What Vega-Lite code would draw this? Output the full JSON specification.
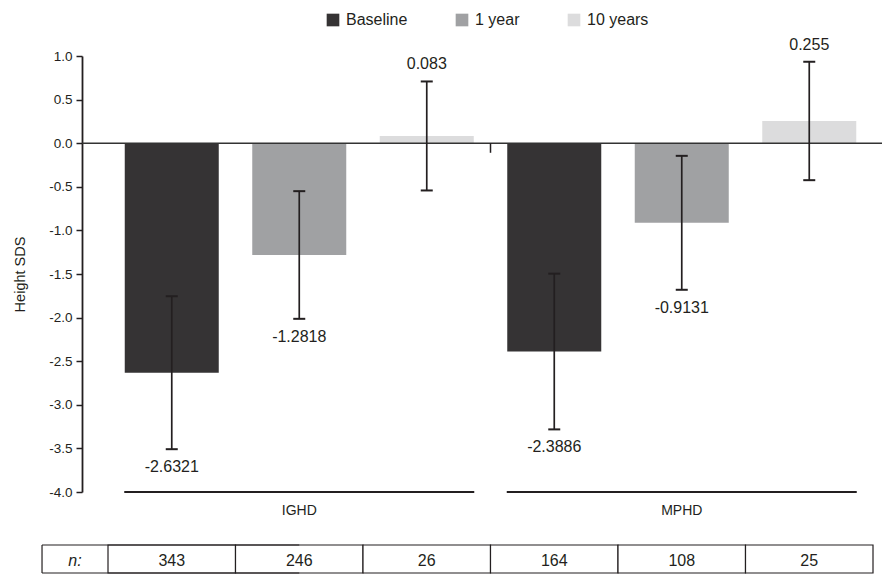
{
  "$schema": "https://vega.github.io/schema/vega-lite/v6.json",
  "width": 800,
  "height": 436,
  "autosize": {"type": "none"},
  "padding": {"left": 82, "top": 56, "right": 0, "bottom": 82},
  "config": {
    "font": "Liberation Sans",
    "view": {"stroke": null},
    "axis": {"labelColor": "#231f20", "titleColor": "#231f20"},
    "axisY": {"labelFontSize": 13.5, "titleFontSize": 14.5, "titleFontWeight": "normal"},
    "axisX": {"labelFontSize": 14},
    "legend": {
      "orient": "none",
      "legendX": 243,
      "legendY": -44,
      "direction": "horizontal",
      "symbolType": "square",
      "symbolSize": 160,
      "symbolStrokeWidth": 0,
      "labelFontSize": 16,
      "labelColor": "#231f20",
      "labelOffset": 5,
      "columnPadding": 46,
      "title": null
    }
  },
  "datasets": {
    "bars": [
      {"group": "IGHD", "time": "Baseline", "mean": -2.6321, "low": -3.509, "high": -1.755, "label": "-2.6321", "n": 343},
      {"group": "IGHD", "time": "1 year", "mean": -1.2818, "low": -2.014, "high": -0.55, "label": "-1.2818", "n": 246},
      {"group": "IGHD", "time": "10 years", "mean": 0.083, "low": -0.542, "high": 0.708, "label": "0.083", "n": 26},
      {"group": "MPHD", "time": "Baseline", "mean": -2.3886, "low": -3.282, "high": -1.496, "label": "-2.3886", "n": 164},
      {"group": "MPHD", "time": "1 year", "mean": -0.9131, "low": -1.681, "high": -0.145, "label": "-0.9131", "n": 108},
      {"group": "MPHD", "time": "10 years", "mean": 0.255, "low": -0.424, "high": 0.934, "label": "0.255", "n": 25}
    ],
    "groups": [{"group": "IGHD"}, {"group": "MPHD"}],
    "header": [{"label": "n:"}]
  },
  "layer": [
    {
      "layer": [
        {
          "data": {"name": "bars"},
          "mark": {"type": "bar"},
          "encoding": {
            "x": {
              "field": "group", "type": "nominal",
              "scale": {"domain": ["IGHD", "MPHD"], "paddingInner": 0, "paddingOuter": 0.04575, "align": 0.743},
              "axis": {"title": null, "domain": false, "ticks": false, "labelPadding": 11, "labelFontSize": 14, "labelAngle": 0}
            },
            "xOffset": {
              "field": "time", "type": "nominal",
              "scale": {"domain": ["Baseline", "1 year", "10 years"], "paddingInner": 0.2627, "paddingOuter": 0.13135}
            },
            "y": {
              "field": "mean", "type": "quantitative",
              "scale": {"domain": [-4, 1], "nice": false, "zero": false},
              "axis": {
                "values": [-4, -3.5, -3, -2.5, -2, -1.5, -1, -0.5, 0, 0.5, 1],
                "labelExpr": "replace(format(datum.value, '.1f'), '−', '-')",
                "tickSize": 6, "labelPadding": 4, "labelFontSize": 13.5,
                "domainColor": "#231f20", "domainWidth": 1.8,
                "tickColor": "#231f20", "tickWidth": 1.5, "grid": false,
                "title": "Height SDS", "titleFontSize": 14.5, "titleFontWeight": "normal", "titlePadding": 21
              }
            },
            "y2": {"datum": 0},
            "color": {
              "field": "time", "type": "nominal",
              "scale": {"domain": ["Baseline", "1 year", "10 years"], "range": ["#353334", "#a0a1a3", "#dcdcdd"]}
            }
          }
        },
        {
          "data": {"name": "header"},
          "mark": {"type": "rule", "color": "#333333", "strokeWidth": 1.6},
          "encoding": {"y": {"datum": 0}}
        },
        {
          "data": {"name": "header"},
          "mark": {"type": "rule", "color": "#231f20", "strokeWidth": 1.5},
          "encoding": {
            "x": {"datum": "MPHD", "bandPosition": 0},
            "y": {"datum": 0},
            "y2": {"datum": -0.11}
          }
        },
        {
          "data": {"name": "bars"},
          "mark": {"type": "rule", "color": "#231f20", "strokeWidth": 1.7},
          "encoding": {
            "x": {"field": "group", "type": "nominal"},
            "xOffset": {"field": "time", "type": "nominal"},
            "y": {"field": "low", "type": "quantitative"},
            "y2": {"field": "high"}
          }
        },
        {
          "data": {"name": "bars"},
          "mark": {"type": "tick", "orient": "horizontal", "size": 12, "thickness": 2, "color": "#231f20", "opacity": 1},
          "encoding": {
            "x": {"field": "group", "type": "nominal"},
            "xOffset": {"field": "time", "type": "nominal"},
            "y": {"field": "low", "type": "quantitative"}
          }
        },
        {
          "data": {"name": "bars"},
          "mark": {"type": "tick", "orient": "horizontal", "size": 12, "thickness": 2, "color": "#231f20", "opacity": 1},
          "encoding": {
            "x": {"field": "group", "type": "nominal"},
            "xOffset": {"field": "time", "type": "nominal"},
            "y": {"field": "high", "type": "quantitative"}
          }
        },
        {
          "data": {"name": "bars"},
          "transform": [{"filter": "datum.mean < 0"}],
          "mark": {"type": "text", "fontSize": 16, "color": "#231f20", "baseline": "middle", "align": "center", "dy": 18},
          "encoding": {
            "x": {"field": "group", "type": "nominal"},
            "xOffset": {"field": "time", "type": "nominal"},
            "y": {"field": "low", "type": "quantitative"},
            "text": {"field": "label"}
          }
        },
        {
          "data": {"name": "bars"},
          "transform": [{"filter": "datum.mean > 0"}],
          "mark": {"type": "text", "fontSize": 16, "color": "#231f20", "baseline": "middle", "align": "center", "dy": -17},
          "encoding": {
            "x": {"field": "group", "type": "nominal"},
            "xOffset": {"field": "time", "type": "nominal"},
            "y": {"field": "high", "type": "quantitative"},
            "text": {"field": "label"}
          }
        },
        {
          "data": {"name": "groups"},
          "mark": {"type": "tick", "orient": "horizontal", "size": 350, "thickness": 1.8, "color": "#231f20", "opacity": 1},
          "encoding": {
            "x": {"field": "group", "type": "nominal"},
            "y": {"datum": -4}
          }
        }
      ]
    },
    {
      "layer": [
        {
          "data": {"name": "bars"},
          "mark": {"type": "rect", "fill": "#ffffff", "stroke": "#231f20", "strokeWidth": 1.2},
          "encoding": {
            "x": {"field": "group", "type": "nominal"},
            "xOffset": {
              "field": "time", "type": "nominal",
              "scale": {"domain": ["Baseline", "1 year", "10 years"], "paddingInner": 0, "paddingOuter": 0}
            },
            "y": {"datum": -4.608},
            "y2": {"datum": -4.929}
          }
        },
        {
          "data": {"name": "header"},
          "mark": {"type": "rule", "color": "#231f20", "strokeWidth": 1.2},
          "encoding": {
            "x": {"datum": "IGHD", "bandPosition": -0.1725},
            "y": {"datum": -4.608},
            "y2": {"datum": -4.929}
          }
        },
        {
          "data": {"name": "header"},
          "mark": {"type": "rule", "color": "#231f20", "strokeWidth": 1.2},
          "encoding": {
            "x": {"datum": "IGHD", "bandPosition": -0.1725},
            "x2": {"datum": "IGHD"},
            "y": {"datum": -4.608}
          }
        },
        {
          "data": {"name": "header"},
          "mark": {"type": "rule", "color": "#231f20", "strokeWidth": 1.2},
          "encoding": {
            "x": {"datum": "IGHD", "bandPosition": -0.1725},
            "x2": {"datum": "IGHD"},
            "y": {"datum": -4.929}
          }
        },
        {
          "data": {"name": "bars"},
          "mark": {"type": "text", "fontSize": 16, "color": "#231f20", "baseline": "middle", "align": "center"},
          "encoding": {
            "x": {"field": "group", "type": "nominal"},
            "xOffset": {"field": "time", "type": "nominal"},
            "y": {"datum": -4.791},
            "text": {"field": "n", "type": "quantitative"}
          }
        },
        {
          "data": {"name": "header"},
          "mark": {"type": "text", "fontSize": 16, "fontStyle": "italic", "color": "#231f20", "baseline": "middle", "align": "center"},
          "encoding": {
            "x": {"datum": "IGHD", "bandPosition": -0.0863},
            "y": {"datum": -4.791},
            "text": {"field": "label"}
          }
        }
      ]
    }
  ],
  "resolve": {"scale": {"xOffset": "independent"}}
}
